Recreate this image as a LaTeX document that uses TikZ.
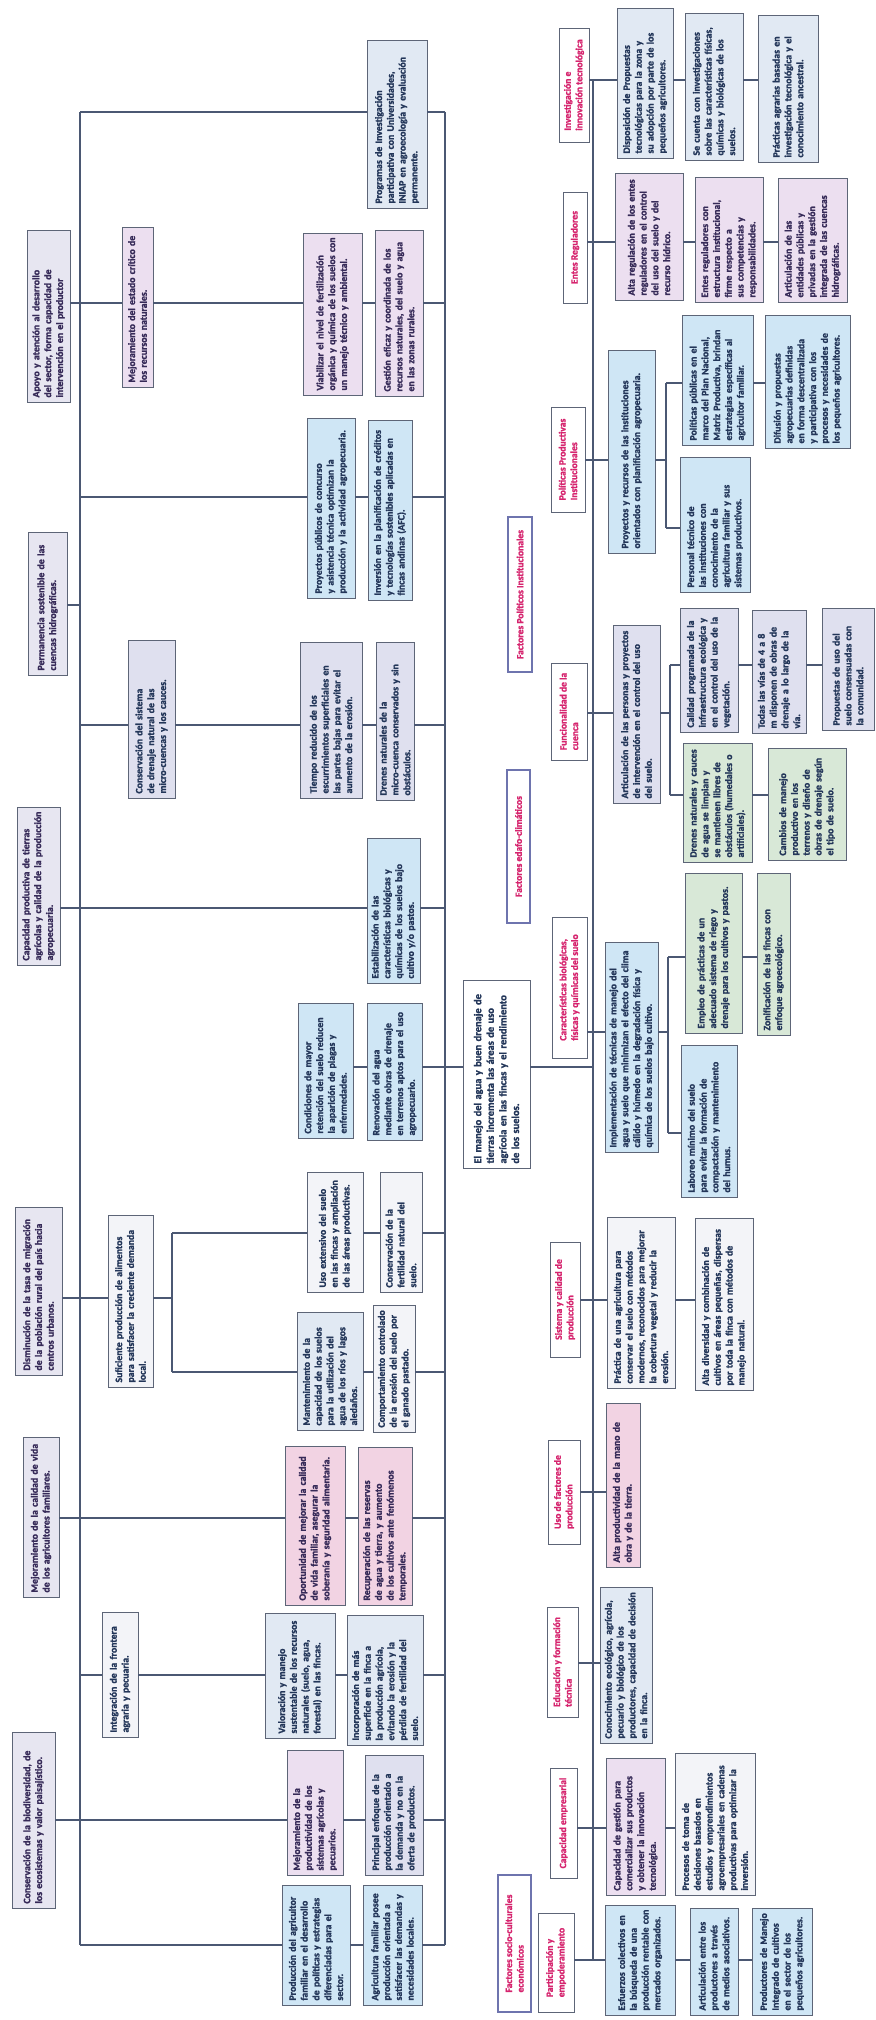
\documentclass[tikz,border=0pt]{standalone}
\usepackage{fontspec}
\setmainfont{Carlito}[BoldFeatures={FakeBold=1.6}]
\definecolor{bd}{HTML}{5D6577}
\definecolor{ln}{HTML}{4B5873}
\definecolor{tx}{HTML}{233659}
\definecolor{txp}{HTML}{362A58}
\definecolor{mag}{HTML}{D6246E}
\definecolor{dimc}{HTML}{6E74AE}
\definecolor{cb}{HTML}{CFE6F5}
\definecolor{cbg}{HTML}{E1E9F3}
\definecolor{cpk}{HTML}{ECDFF0}
\definecolor{clv}{HTML}{DFE0EF}
\definecolor{cte}{HTML}{E7E6F1}
\definecolor{cgr}{HTML}{D8E8D7}
\definecolor{cwh}{HTML}{F3F4F8}
\definecolor{crs}{HTML}{F2D3E3}
\tikzset{
  bxs/.style={draw=bd, line width=0.9pt, rectangle, inner xsep=3pt, inner ysep=2pt,
    font=\fontsize{9.8}{11.8}\selectfont\bfseries, text=tx, align=left},
  fb/.style={bxs, fill=cb},
  fbg/.style={bxs, fill=cbg},
  fpk/.style={bxs, fill=cpk, text=txp},
  flv/.style={bxs, fill=clv},
  fte/.style={bxs, fill=cte, text=txp},
  fgr/.style={bxs, fill=cgr},
  fwh/.style={bxs, fill=cwh},
  frs/.style={bxs, fill=crs, text=txp},
  fctr/.style={bxs, fill=white, font=\fontsize{10.4}{12.6}\selectfont\bfseries},
  catb/.style={draw=bd, line width=0.9pt, fill=white, rectangle, inner sep=2pt,
    font=\fontsize{9.6}{11.6}\selectfont\bfseries, text=mag, align=left},
  dimb/.style={catb, draw=dimc, line width=1.3pt},
  con/.style={draw=ln, line width=1.1pt},
}
\newcommand\bx[7]{%
  \pgfmathsetmacro\myW{#6-#5}%
  \pgfmathsetmacro\myH{#4-#3}%
  \pgfmathsetmacro\myT{#6-#5-9}%
  \pgfmathsetmacro\myX{(#3+#4)/2}%
  \pgfmathsetmacro\myY{(#5+#6)/2}%
  \node[#1, rotate=90, minimum width=\myW pt, minimum height=\myH pt, text width=\myT pt] (#2) at (\myX,\myY) {#7};}
\newcommand\lb[7]{%
  \pgfmathsetmacro\myW{#6-#5}%
  \pgfmathsetmacro\myH{#4-#3}%
  \pgfmathsetmacro\myX{(#3+#4)/2}%
  \pgfmathsetmacro\myY{(#5+#6)/2}%
  \node[#1, rotate=90, minimum width=\myW pt, minimum height=\myH pt] (#2) at (\myX,\myY) {#7};}
\newcommand\hc[3]{\draw[con] (#1.south |- 0,#3) -- (#2.north |- 0,#3);}
\newcommand\hr[3]{\draw[con] (#1.south |- 0,#3) -- (#2,#3);}
\newcommand\hl[3]{\draw[con] (#1,#3) -- (#2.north |- 0,#3);}
\begin{document}
\hyphenpenalty=10000
\exhyphenpenalty=10000
\begin{tikzpicture}[x=1pt,y=-1pt]
\useasboundingbox[fill=white] (0,0) rectangle (875,2020);

% ================= UPPER PART (effects) =================
\bx{fte}{te1}{27}{70}{230}{402}{Apoyo y atención al desarrollo del sector, forma capacidad de intervención en el productor}
\bx{fte}{te2}{28}{67}{532}{675}{Permanencia sostenible de las cuencas hidrográficas.}
\bx{fte}{te3}{17}{60}{807}{965}{Capacidad productiva de tierras agrícolas y calidad de la producción agropecuaria.}
\bx{fte}{te4}{15}{62}{1207}{1375}{Disminución de la tasa de migración de la población rural del país hacia centros urbanos.}
\bx{fte}{te5}{23}{59}{1437}{1597}{Mejoramiento de la calidad de vida de los agricultores familiares.}
\bx{fte}{te6}{12}{55}{1732}{1908}{Conservación de la biodiversidad, de los ecosistemas y valor paisajístico.}

\bx{fpk}{ma}{122}{153}{227}{387}{Mejoramiento del estado crítico de los recursos naturales.}
\bx{flv}{mb}{128}{175}{640}{798}{Conservación del sistema de drenaje natural de las micro-cuencas y los cauces.}
\bx{fwh}{mc}{108}{153}{1215}{1387}{Suficiente producción de alimentos para satisfacer la creciente demanda local.}
\bx{fwh}{md}{102}{138}{1612}{1737}{Integración de la frontera agraria y pecuaria.}

\bx{fbg}{pg}{367}{427}{40}{208}{Programas de Investigación participativa con Universidades, INIAP en agroecología y evaluación permanente.}
\bx{fpk}{ra1}{303}{362}{233}{395}{Viabilizar el nivel de fertilización orgánica y química de los suelos con un manejo técnico y ambiental.}
\bx{fpk}{ra2}{375}{423}{230}{396}{Gestión eficaz y coordinada de los recursos naturales, del suelo y agua en las zonas rurales.}
\bx{fb}{rb1}{307}{355}{418}{598}{Proyectos públicos de concurso y asistencia técnica optimizan la producción y la actividad agropecuaria.}
\bx{fb}{rb2}{368}{412}{420}{600}{Inversión en la planificación de créditos y tecnologías sostenibles aplicadas en fincas andinas (AFC).}
\bx{flv}{rc1}{300}{362}{642}{798}{Tiempo reducido de los escurrimientos superficiales en las partes bajas para evitar el aumento de la erosión.}
\bx{flv}{rc2}{376}{414}{642}{800}{Drenes naturales de la micro-cuenca conservados y sin obstáculos.}
\bx{fb}{rd1}{367}{420}{838}{983}{Estabilización de las características biológicas y químicas de los suelos bajo cultivo y/o pastos.}
\bx{fb}{re1}{298}{353}{1003}{1138}{Condiciones de mayor retención del suelo reducen la aparición de plagas y enfermedades.}
\bx{fb}{re2}{367}{422}{1003}{1140}{Renovación del agua mediante obras de drenaje en terrenos aptos para el uso agropecuario.}
\bx{fwh}{rf1}{307}{363}{1172}{1292}{Uso extensivo del suelo en las fincas y ampliación de las áreas productivas.}
\bx{fwh}{rf2}{380}{422}{1172}{1292}{Conservación de la fertilidad natural del suelo.}
\bx{fbg}{rg1}{297}{363}{1312}{1430}{Mantenimiento de la capacidad de los suelos para la utilización del agua de los ríos y lagos aledaños.}
\bx{fwh}{rg2}{373}{415}{1305}{1432}{Comportamiento controlado de la erosión del suelo por el ganado pastado.}
\bx{frs}{rh1}{285}{345}{1446}{1605}{Oportunidad de mejorar la calidad de vida familiar, asegurar la soberanía y seguridad alimentaria.}
\bx{frs}{rh2}{358}{412}{1447}{1605}{Recuperación de las reservas de agua y tierra, y aumento de los cultivos ante fenómenos temporales.}
\bx{fbg}{ri1}{265}{335}{1613}{1738}{Valoración y manejo sustentable de los recursos naturales (suelo, agua, forestal) en las fincas.}
\bx{fbg}{ri2}{347}{423}{1615}{1745}{Incorporación de más superficie en la finca a la producción agrícola, evitando la erosión y la pérdida de fertilidad del suelo.}
\bx{fpk}{rj1}{287}{343}{1750}{1875}{Mejoramiento de la productividad de los sistemas agrícolas y pecuarios.}
\bx{flv}{rj2}{365}{423}{1755}{1875}{Principal enfoque de la producción orientado a la demanda y no en la oferta de productos.}
\bx{fb}{rk1}{282}{350}{1885}{2005}{Producción del agricultor familiar en el desarrollo de políticas y estrategias diferenciadas para el sector.}
\bx{fb}{rk2}{363}{422}{1885}{2005}{Agricultura familiar posee producción orientada a satisfacer las demandas y necesidades locales.}

% central problem
\bx{fctr}{central}{463}{530}{980}{1168}{El manejo del agua y buen drenaje de tierras incrementa las áreas de uso agrícola en las fincas y el rendimiento de los suelos.}

% bars
\draw[con] (80,112) -- (80,1945);
\draw[con] (445,112) -- (445,1945);
\draw[con] (172,1233) -- (172,1372);
% rows
\hl{80}{pg}{112} \hr{pg}{445}{112}
\hc{te1}{ma}{303} \hc{ma}{ra1}{303} \hc{ra1}{ra2}{303} \hr{ra2}{445}{303}
\hl{80}{rb1}{497} \hc{rb1}{rb2}{497} \hr{rb2}{445}{497}
\hr{te2}{80}{605}
\hl{80}{mb}{725} \hc{mb}{rc1}{725} \hc{rc1}{rc2}{725} \hr{rc2}{445}{725}
\hc{te3}{rd1}{908} \hr{rd1}{445}{908}
\hc{re1}{re2}{1067} \hc{re2}{central}{1067} \hr{central}{593}{1067}
\hc{te4}{mc}{1298} \hr{mc}{172}{1298}
\hl{172}{rf1}{1233} \hc{rf1}{rf2}{1233} \hr{rf2}{445}{1233}
\hl{172}{rg1}{1372} \hc{rg1}{rg2}{1372} \hr{rg2}{445}{1372}
\hc{te5}{rh1}{1518} \hc{rh1}{rh2}{1518} \hr{rh2}{445}{1518}
\hl{80}{md}{1675} \hc{md}{ri1}{1675} \hc{ri1}{ri2}{1675} \hr{ri2}{445}{1675}
\hc{te6}{rj1}{1820} \hc{rj1}{rj2}{1820} \hr{rj2}{445}{1820}
\hl{80}{rk1}{1945} \hc{rk1}{rk2}{1945} \hr{rk2}{445}{1945}

% ================= LOWER PART (causes) =================
\lb{dimb}{dim1}{508}{532}{517}{672}{Factores Políticos Institucionales}
\lb{dimb}{dim2}{507}{530}{770}{923}{Factores edafo-climáticos}
\lb{dimb}{dim3}{498}{531}{1875}{2012}{Factores socio-culturales\\económicos}

\lb{catb}{cat1}{559}{589}{28}{142}{Investigación e\\innovación tecnológica}
\lb{catb}{cat2}{563}{587}{192}{303}{Entes Reguladores}
\lb{catb}{cat3}{551}{585}{407}{512}{Políticas Productivas\\Institucionales}
\lb{catb}{cat5}{551}{587}{663}{760}{Funcionalidad de la\\cuenca}
\lb{catb}{cat7}{552}{587}{917}{1058}{Características biológicas,\\físicas y químicas del suelo}
\lb{catb}{cat8}{550}{580}{1242}{1357}{Sistema y calidad de\\producción}
\lb{catb}{cat9}{548}{580}{1440}{1544}{Uso de factores de\\producción}
\lb{catb}{cat10}{547}{578}{1607}{1717}{Educación y formación\\técnica}
\lb{catb}{cat11}{550}{577}{1768}{1878}{Capacidad empresarial}
\lb{catb}{cat12}{538}{574}{1913}{2012}{Participación y\\empoderamiento}

\bx{fbg}{A1}{617}{673}{8}{158}{Disposición de Propuestas tecnológicas para la zona y su adopción por parte de los pequeños agricultores.}
\bx{fbg}{A2}{685}{743}{13}{160}{Se cuenta con investigaciones sobre las características físicas, químicas y biológicas de los suelos.}
\bx{fbg}{A3}{758}{818}{15}{162}{Prácticas agrarias basadas en investigación tecnológica y el conocimiento ancestral.}
\bx{fpk}{B1}{615}{683}{173}{300}{Alta regulación de los entes reguladores en el control del uso del suelo y del recurso hídrico.}
\bx{fpk}{B2}{695}{763}{177}{302}{Entes reguladores con estructura institucional, firme respecto a sus competencias y responsabilidades.}
\bx{fpk}{B3}{778}{847}{178}{302}{Articulación de las entidades públicas y privadas en la gestión integrada de las cuencas hidrográficas.}
\bx{fb}{C1}{608}{655}{350}{553}{Proyectos y recursos de las instituciones orientados con planificación agropecuaria.}
\bx{fb}{C2}{682}{753}{315}{445}{Políticas públicas en el marco del Plan Nacional, Matriz Productiva, brindan estrategias específicas al agricultor familiar.}
\bx{fb}{C3}{765}{850}{315}{448}{Difusión y propuestas agropecuarias definidas en forma descentralizada y participativa con los procesos y necesidades de los pequeños agricultores.}
\bx{fb}{C4}{680}{750}{457}{592}{Personal técnico de las instituciones con conocimiento de la agricultura familiar y sus sistemas productivos.}
\bx{flv}{D1}{613}{660}{625}{803}{Articulación de las personas y proyectos de intervención en el control del uso del suelo.}
\bx{flv}{D2}{680}{738}{608}{732}{Calidad programada de la infraestructura ecológica y en el control del uso de la vegetación.}
\bx{flv}{D3}{752}{806}{610}{733}{Todas las vías de 4 a 8 m disponen de obras de drenaje a lo largo de la vía.}
\bx{flv}{D4}{822}{874}{608}{730}{Propuestas de uso del suelo consensuadas con la comunidad.}
\bx{fgr}{D5}{683}{752}{743}{862}{Drenes naturales y cauces de agua se limpian y se mantienen libres de obstáculos (humedales o artificiales).}
\bx{fgr}{D6}{768}{846}{748}{860}{Cambios de manejo productivo en los terrenos y diseño de obras de drenaje según el tipo de suelo.}
\bx{fb}{E1}{605}{658}{942}{1152}{Implementación de técnicas de manejo del agua y suelo que minimizan el efecto del clima cálido y húmedo en la degradación física y química de los suelos bajo cultivo.}
\bx{fgr}{E2}{685}{742}{873}{1033}{Empleo de prácticas de un adecuado sistema de riego y drenaje para los cultivos y pastos.}
\bx{fgr}{E3}{757}{790}{873}{1035}{Zonificación de las fincas con enfoque agroecológico.}
\bx{fb}{E4}{681}{737}{1045}{1197}{Laboreo mínimo del suelo para evitar la formación de compactación y mantenimiento del humus.}
\bx{fwh}{F1}{607}{675}{1217}{1388}{Práctica de una agricultura para conservar el suelo con métodos modernos, reconocidos para mejorar la cobertura vegetal y reducir la erosión.}
\bx{fwh}{F2}{695}{753}{1218}{1390}{Alta diversidad y combinación de cultivos en áreas pequeñas, dispersas por toda la finca con métodos de manejo natural.}
\bx{frs}{G1}{606}{640}{1403}{1567}{Alta productividad de la mano de obra y de la tierra.}
\bx{fbg}{H1}{600}{652}{1587}{1743}{Conocimiento ecológico, agrícola, pecuario y biológico de los productores, capacidad de decisión en la finca.}
\bx{fpk}{I1}{606}{665}{1758}{1895}{Capacidad de gestión para comercializar sus productos y obtener la innovación tecnológica.}
\bx{fwh}{I2}{675}{755}{1753}{1895}{Procesos de toma de decisiones basados en estudios y emprendimientos agroempresariales en cadenas productivas para optimizar la inversión.}
\bx{fb}{J1}{605}{675}{1905}{2015}{Esfuerzos colectivos en la búsqueda de una producción rentable con mercados organizados.}
\bx{fb}{J2}{690}{738}{1908}{2015}{Articulación entre los productores a través de medios asociativos.}
\bx{fb}{J3}{752}{812}{1908}{2015}{Productores de Manejo Integrado de cultivos en el sector de los pequeños agricultores.}

% trunk and sub-bars
\draw[con] (593,80) -- (593,1960);
\draw[con] (666,383) -- (666,528);
\draw[con] (670,665) -- (670,795);
\draw[con] (668,957) -- (668,1133);
% rows
\hc{cat1}{A1}{80} \hc{A1}{A2}{80} \hc{A2}{A3}{80}
\hc{cat2}{B1}{242} \hc{B1}{B2}{242} \hc{B2}{B3}{242}
\hc{cat3}{C1}{460} \hr{C1}{666}{460}
\hl{666}{C2}{383} \hc{C2}{C3}{383} \hl{666}{C4}{528}
\hc{cat5}{D1}{713} \hr{D1}{670}{713}
\hl{670}{D2}{665} \hc{D2}{D3}{665} \hc{D3}{D4}{665}
\hl{670}{D5}{795} \hc{D5}{D6}{795}
\hc{cat7}{E1}{1032} \hr{E1}{668}{1032}
\hl{668}{E2}{957} \hc{E2}{E3}{957} \hl{668}{E4}{1133}
\hc{cat8}{F1}{1300} \hc{F1}{F2}{1300}
\hc{cat9}{G1}{1492}
\hc{cat10}{H1}{1663}
\hc{cat11}{I1}{1828} \hc{I1}{I2}{1828}
\hc{cat12}{J1}{1960} \hc{J1}{J2}{1960} \hc{J2}{J3}{1960}
\end{tikzpicture}
\end{document}
